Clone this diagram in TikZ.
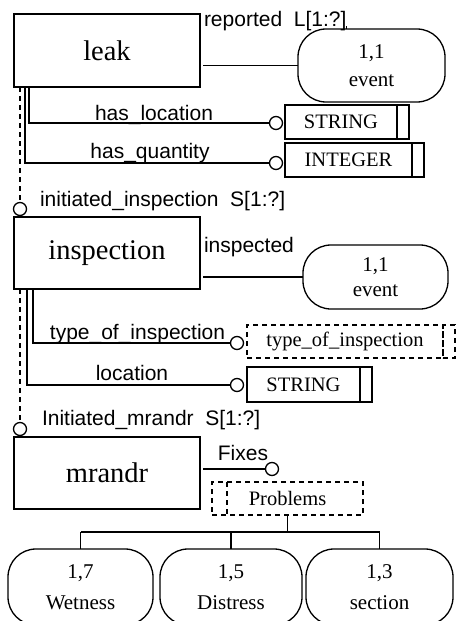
\documentclass[tikz,border=0pt]{standalone}
\usepackage{fontspec}
\setmainfont{Liberation Serif}
\setsansfont{Liberation Sans}
\begin{document}
\begin{tikzpicture}[x=1pt,y=-1pt,
  every node/.style={inner sep=0pt, outer sep=0pt},
  ln/.style={line width=1.3pt},
  dsh/.style={line width=1.3pt, dash pattern=on 5pt off 4pt},
  ent/.style={draw, line width=1.3pt, rectangle, minimum width=186pt, font=\fontsize{28.5}{30}\selectfont},
  val/.style={draw, line width=1.3pt, rounded corners=28pt, align=center, font=\fontsize{21}{28}\selectfont},
  typ/.style={draw, line width=1.3pt, font=\fontsize{20.5}{22}\selectfont},
  lab/.style={font=\sffamily\fontsize{21}{23}\selectfont, anchor=base},
  opt/.style={draw, circle, fill=white, line width=1.3pt, minimum size=13pt}
]
\useasboundingbox (0,0) rectangle (458,621);

% ---------- leak ----------
\node[ent, minimum height=73pt] (leak) at (107,50.5) {leak};
\node[val, minimum width=147pt, minimum height=73pt] (ev1) at (371.5,65.5) {1,1\\event};
\node[lab, anchor=base west] (rep) at (204,26) {reported\ \ L[1:?]};
\draw[ln] (rep.base east) -- (rep.base east |- ev1.north);
\draw[ln] ([xshift=3pt]leak.east |- ev1.west) -- (ev1.west);

\node[typ, minimum width=112pt, minimum height=34pt] (s1) at (341,122) {STRING};
\node[typ, minimum width=12pt, minimum height=34pt, anchor=west] (s1b) at (s1.east) {};
\node[opt] (c1) at (276,123) {};
\draw[ln] ([xshift=15pt]leak.south west) |- (c1.west);
\node[lab] (hl) at (154,120) {has\_location};

\node[typ, minimum width=127pt, minimum height=34pt] (s2) at (348.5,160) {INTEGER};
\node[typ, minimum width=12pt, minimum height=34pt, anchor=west] (s2b) at (s2.east) {};
\node[opt] (c2) at (276,163) {};
\draw[ln] ([xshift=11pt]leak.south west) |- (c2.west);
\node[lab] (hq) at (150,158) {has\_quantity};

\node[opt] (c3) at (20,209) {};
\draw[dsh] ([xshift=6pt]leak.south west) -- (c3.north);
\node[lab, anchor=base west] (ii) at (40,206) {initiated\_inspection\ \ S[1:?]};

% ---------- inspection ----------
\node[ent, minimum height=72pt] (insp) at (107,253) {inspection};
\node[lab, anchor=base west] (ins) at (204,252) {inspected};
\node[val, minimum width=145pt, minimum height=64pt, font=\fontsize{21}{25}\selectfont] (ev2) at (375.5,277) {1,1\\event};
\draw[ln] ([xshift=3pt]insp.east |- ev2.west) -- (ev2.west);

\node[typ, dash pattern=on 5pt off 4pt, minimum width=196pt, minimum height=33pt] (tyi) at (345,341.5) {type\_of\_inspection};
\node[typ, dash pattern=on 5pt off 4pt, minimum width=12pt, minimum height=33pt, anchor=west] (tyib) at (tyi.east) {};
\node[opt] (c4) at (237,343) {};
\draw[ln] ([xshift=19pt]insp.south west) |- (c4.west);
\node[lab] (ti) at (137.5,339) {type\_of\_inspection};

\node[typ, minimum width=113pt, minimum height=35pt] (s3) at (303.5,384.5) {STRING};
\node[typ, minimum width=12pt, minimum height=35pt, anchor=west] (s3b) at (s3.east) {};
\node[opt] (c5) at (237,385) {};
\draw[ln] ([xshift=13pt]insp.south west) |- (c5.west);
\node[lab] (loc) at (132,380) {location};

\node[opt] (c6) at (20,429) {};
\draw[dsh] ([xshift=6pt]insp.south west) -- (c6.north);
\node[lab, anchor=base west] (im) at (42,425) {Initiated\_mrandr\ \ S[1:?]};

% ---------- mrandr ----------
\node[ent, minimum height=72pt] (mr) at (107,473) {mrandr};
\node[opt] (c7) at (272,469) {};
\draw[ln] ([xshift=3pt]mr.east |- c7.west) -- (c7.west);
\node[lab] (fx) at (243,460) {Fixes};

\node[typ, dash pattern=on 5pt off 4pt, minimum width=151pt, minimum height=33pt] (pb) at (287.5,498.5) {Problems};
\draw[dsh] ([xshift=15pt]pb.north west) -- ([xshift=15pt]pb.south west);

\node[val, minimum width=145pt, minimum height=76pt, font=\fontsize{21}{31}\selectfont] (w) at (80.5,587) {1,7\\Wetness};
\node[val, minimum width=142pt, minimum height=76pt, font=\fontsize{21}{31}\selectfont] (d) at (231,587) {1,5\\Distress};
\node[val, minimum width=147pt, minimum height=76pt, font=\fontsize{21}{31}\selectfont] (se) at (379.5,587) {1,3\\section};

\coordinate (jn) at (287.5,532);
\draw[ln] (pb.south) -- (jn);
\draw[ln] (w.north |- jn) -- (se.north |- jn);
\draw[ln] (w.north |- jn) -- (w.north);
\draw[ln] (d.north |- jn) -- (d.north);
\draw[ln] (se.north |- jn) -- (se.north);
\end{tikzpicture}
\end{document}
